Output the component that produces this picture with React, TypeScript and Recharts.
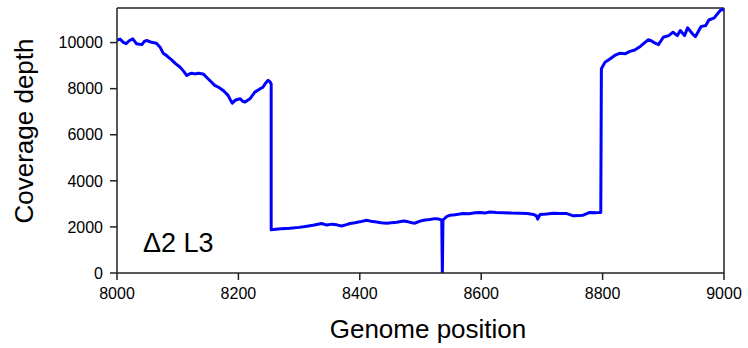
import React from 'react';
import { LineChart, Line, XAxis, YAxis, ReferenceLine, Customized } from 'recharts';

const positions = [
  8000, 8005, 8010, 8015, 8020, 8026, 8032, 8041, 8045, 8049, 8057, 8065, 8071, 8076, 8081, 8085, 8090, 8096,
  8104, 8110, 8115, 8120, 8123, 8128, 8134, 8142, 8150, 8155, 8161, 8168, 8175, 8183, 8187, 8190, 8194, 8197,
  8203, 8207, 8211, 8219, 8227, 8236, 8240, 8244, 8249, 8252, 8254, 8254, 8270, 8285, 8300, 8313, 8325, 8337,
  8346, 8354, 8362, 8370, 8378, 8384, 8392, 8400, 8411, 8418, 8425, 8435, 8444, 8452, 8461, 8472, 8480, 8486,
  8491, 8498, 8505, 8515, 8524, 8530, 8535, 8536, 8537, 8543, 8549, 8557, 8565, 8570, 8580, 8590, 8598, 8606,
  8614, 8625, 8636, 8650, 8664, 8676, 8686, 8691, 8693, 8697, 8708, 8719, 8730, 8741, 8752, 8760, 8768, 8779,
  8790, 8797, 8798, 8804, 8812, 8820, 8829, 8837, 8845, 8853, 8862, 8870, 8875, 8880, 8884, 8892, 8900, 8909,
  8916, 8923, 8928, 8935, 8940, 8948, 8953, 8962, 8970, 8975, 8984, 8990, 8995, 9000,
];

const depths = [
  10090, 10150, 10020, 9950, 10080, 10160, 9950, 9910, 10050, 10090, 10010, 9970, 9800, 9540, 9450, 9360, 9250, 9100,
  8930, 8750, 8570, 8650, 8670, 8640, 8670, 8640, 8430, 8300, 8140, 8050, 7920, 7710, 7500, 7370, 7480, 7520,
  7560, 7450, 7420, 7560, 7850, 8000, 8050, 8210, 8360, 8300, 8200, 1880, 1920, 1940, 1980, 2030, 2080, 2150,
  2080, 2120, 2090, 2040, 2100, 2150, 2180, 2220, 2290, 2250, 2220, 2180, 2160, 2180, 2200, 2260, 2220, 2180,
  2160, 2240, 2290, 2320, 2360, 2340, 2300, 0, 2300, 2450, 2510, 2530, 2560, 2580, 2570, 2610, 2630, 2600,
  2650, 2630, 2620, 2600, 2590, 2580, 2540, 2480, 2340, 2540, 2560, 2590, 2580, 2580, 2480, 2490, 2510, 2630,
  2620, 2630, 8860, 9150, 9290, 9440, 9540, 9510, 9620, 9680, 9830, 10010, 10120, 10080, 10010, 9910, 10230, 10300,
  10450, 10300, 10520, 10300, 10640, 10380, 10260, 10690, 10740, 10980, 11070, 11270, 11420, 11420,
];

const xTicks = [8000, 8200, 8400, 8600, 8800, 9000];
const yTicks = [0, 2000, 4000, 6000, 8000, 10000];
const xTitle = 'Genome position';
const yTitle = 'Coverage depth';
const sampleLabel = 'Δ2 L3';

const data = positions.map((p, i) => ({ pos: p, depth: depths[i] }));

const FONT = '"Liberation Sans", Arial, Helvetica, sans-serif';

const Titles = () => (
  <g fontFamily={FONT} fill="#000">
    <text x={428} y={338} fontSize={26} textAnchor="middle">{xTitle}</text>
    <text x={33} y={131} fontSize={26} textAnchor="middle" transform="rotate(-90, 33, 131)">{yTitle}</text>
    <text x={143} y={252} fontSize={27}>{sampleLabel}</text>
  </g>
);

export default function App() {
  return (
    <div style={{ position: 'absolute', left: 0, top: 0, background: '#fff' }}>
      <LineChart width={748} height={348} data={data} margin={{ top: 8, right: 24, left: 0, bottom: 0 }}>
        <XAxis
          type="number"
          dataKey="pos"
          domain={[8000, 9000]}
          ticks={xTicks}
          height={75}
          tickSize={7}
          tickMargin={8}
          stroke="#222"
          strokeWidth={1.5}
          tick={{ fill: '#000', fontSize: 16, fontFamily: FONT }}
          allowDataOverflow
        />
        <YAxis
          type="number"
          dataKey="depth"
          domain={[0, 11500]}
          ticks={yTicks}
          width={117}
          tickSize={7}
          tickMargin={7}
          stroke="#222"
          strokeWidth={1.5}
          tick={{ fill: '#000', fontSize: 16, fontFamily: FONT }}
          allowDataOverflow
        />
        <ReferenceLine y={11500} stroke="#222" strokeWidth={1.5} />
        <ReferenceLine x={9000} stroke="#222" strokeWidth={1.5} />
        <Line
          type="linear"
          dataKey="depth"
          stroke="#0000ff"
          strokeWidth={3}
          dot={false}
          isAnimationActive={false}
          strokeLinejoin="round"
        />
        <Customized component={Titles} />
      </LineChart>
    </div>
  );
}
